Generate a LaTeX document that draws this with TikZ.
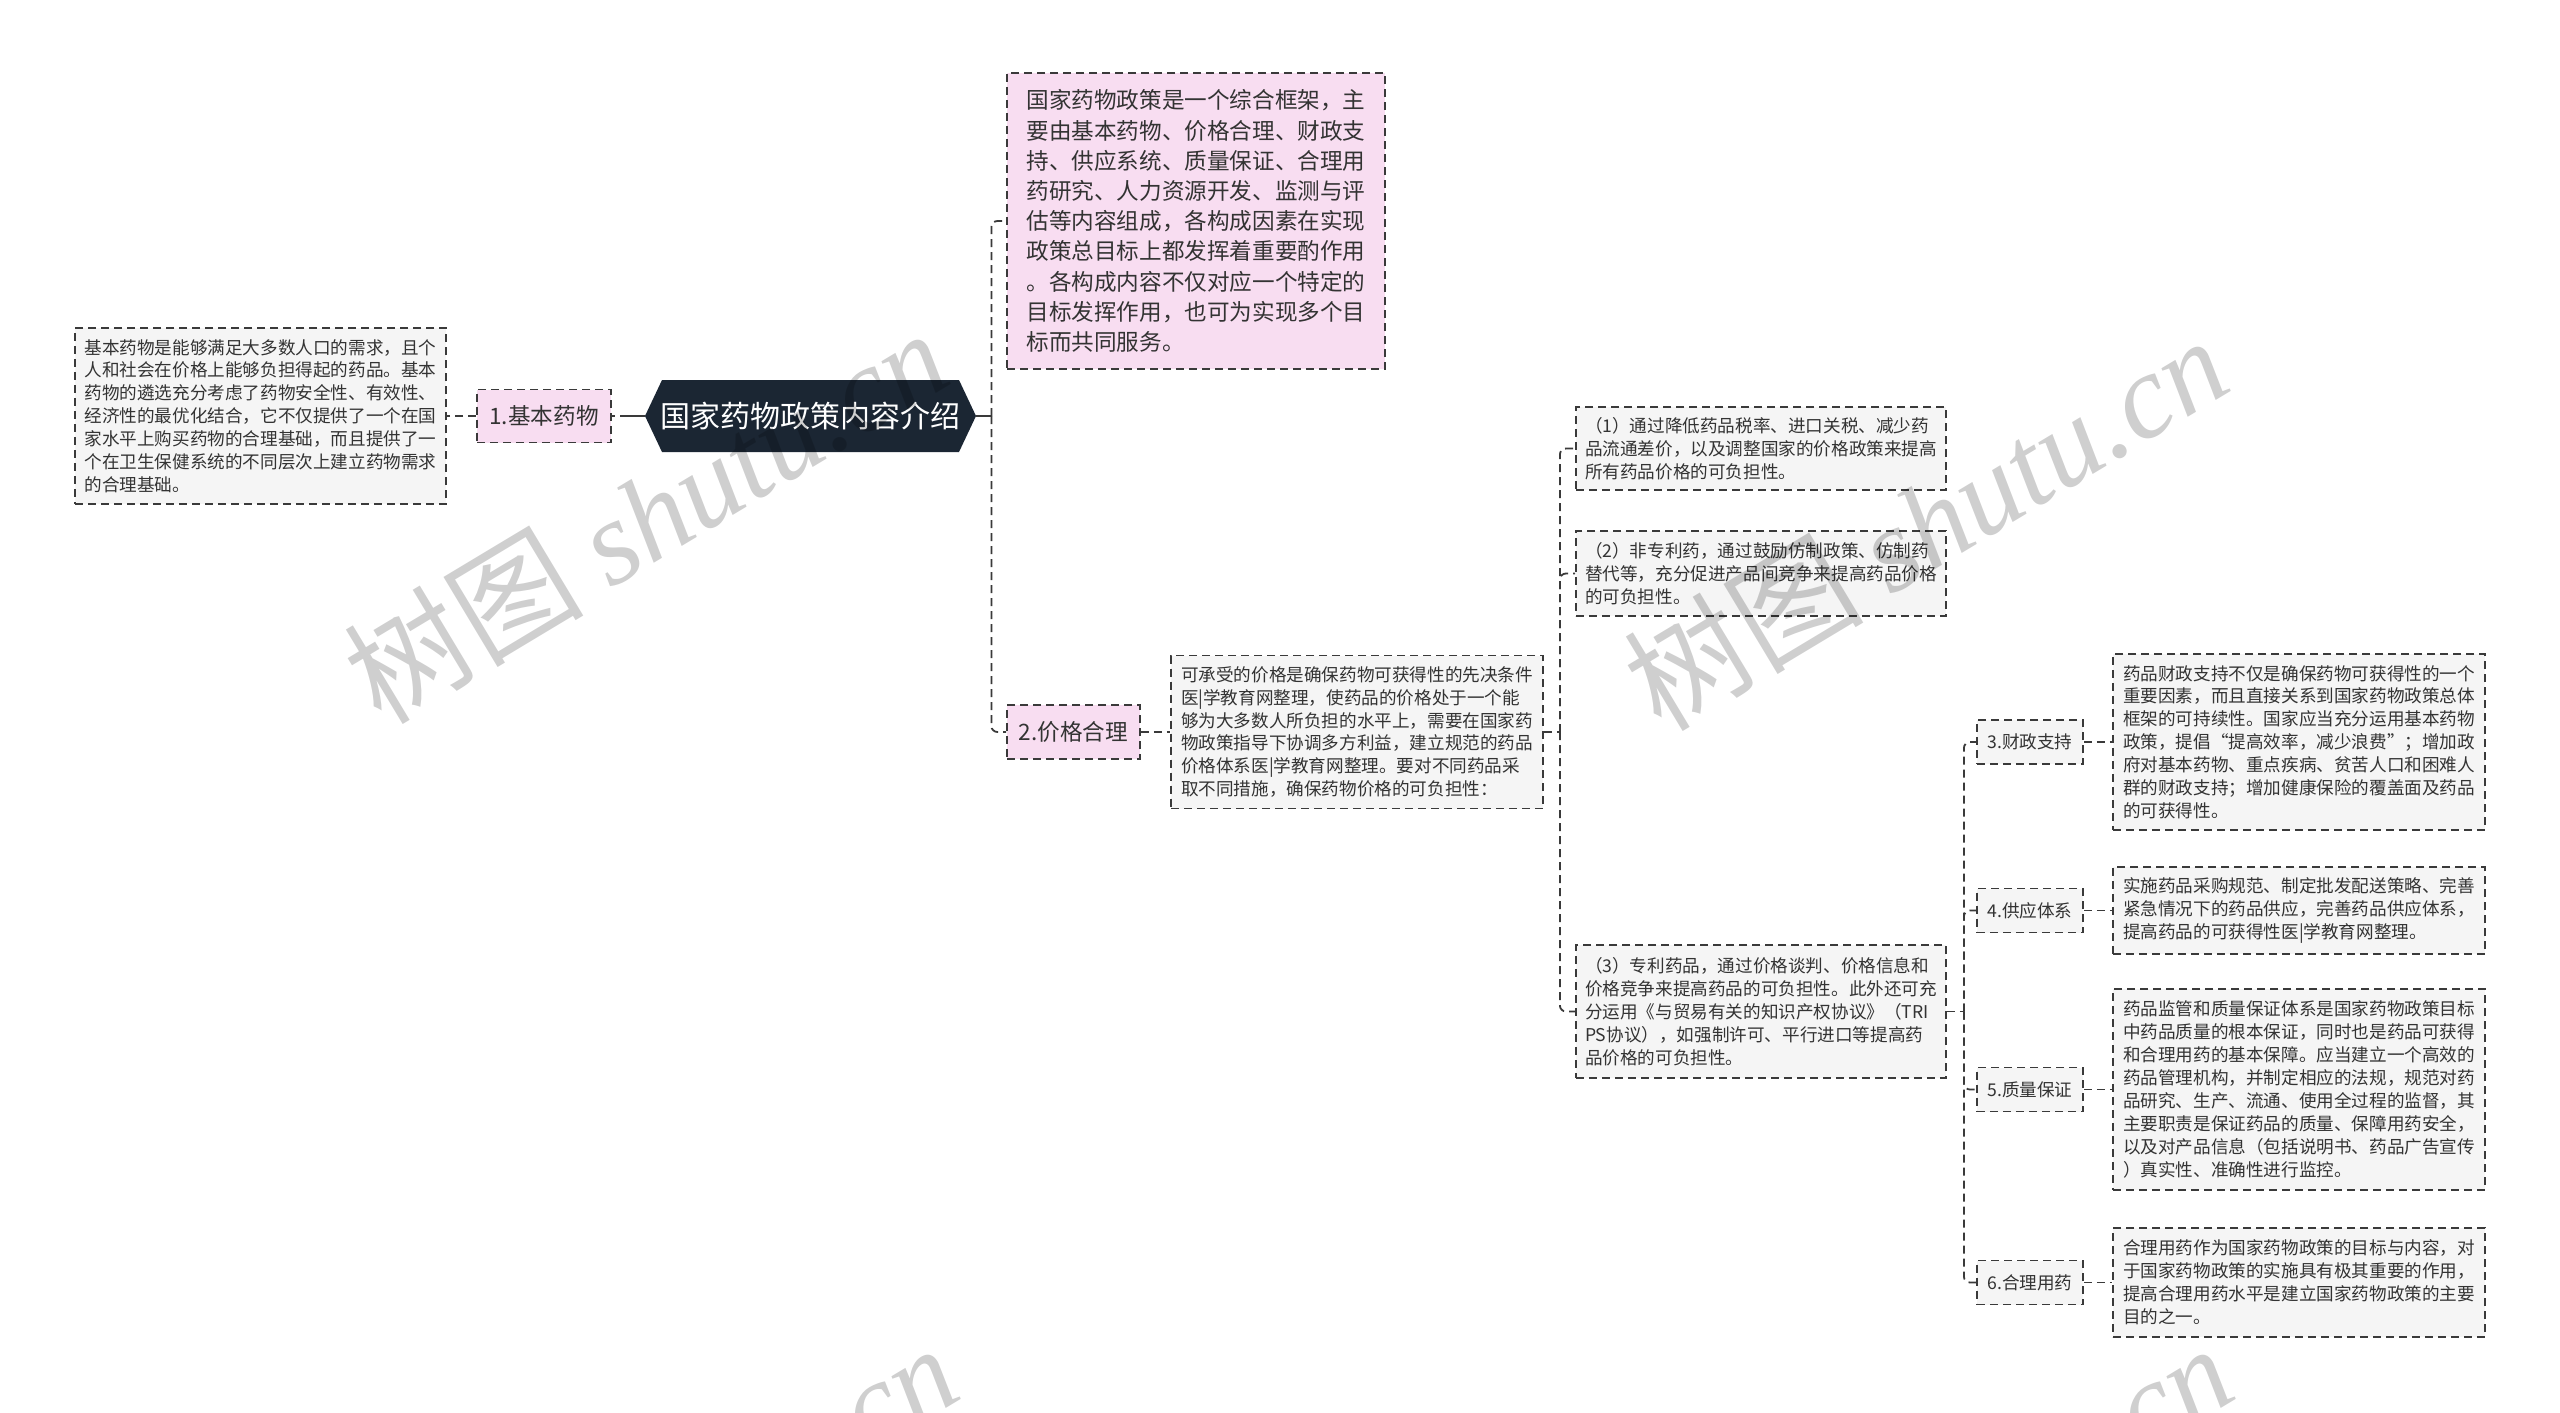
\documentclass[tikz,border=0pt]{standalone}
\usepackage{fontspec}
\setmainfont{Noto Sans CJK SC}
\newfontfamily\wmserif{Liberation Serif}
\definecolor{linec}{HTML}{3A3A3A}
\definecolor{pinkf}{HTML}{F8DDF1}
\definecolor{grayf}{HTML}{F5F5F5}
\definecolor{rootf}{HTML}{1B2633}
\definecolor{txt}{HTML}{333333}
\begin{document}
\begin{tikzpicture}[x=0.5pt,y=-0.5pt,
 box/.style={draw=linec, line width=0.9pt, dash pattern=on 4pt off 2.5pt, align=left, inner sep=3pt, text=txt, anchor=center},
 small/.style={font=\fontsize{8.8}{11.45}\selectfont},
 mid/.style={font=\fontsize{11.3}{15.1}\selectfont},
 gbox/.style={box, fill=grayf, small},
 pbox/.style={box, fill=pinkf},
 conn/.style={draw=linec, line width=0.9pt, dash pattern=on 4pt off 2.5pt, rounded corners=3pt},
 sconn/.style={draw=linec, line width=1.2pt},
 wm/.style={rotate=31, text=black, opacity=0.19, font=\fontsize{60}{60}\selectfont}
]
\useasboundingbox (0,0) rectangle (2560,1413);
\clip (0,0) rectangle (2560,1413);
\fill[white] (0,0) rectangle (2560,1413);

% root hexagon
\fill[rootf] (645,416) -- (662,380) -- (959,380) -- (976,416) -- (959,452) -- (662,452) -- cycle;
\node[text=white, font=\fontsize{15}{18}\selectfont, minimum width=165.5pt, minimum height=36pt, inner sep=0pt] (root) at (810.5,416) {国家药物政策内容介绍};

\node[gbox, minimum width=185.5pt, minimum height=88pt] (L) at (260.5,416) {基本药物是能够满足大多数人口的需求，且个\\人和社会在价格上能够负担得起的药品。基本\\药物的遴选充分考虑了药物安全性、有效性、\\经济性的最优化结合，它不仅提供了一个在国\\家水平上购买药物的合理基础，而且提供了一\\个在卫生保健系统的不同层次上建立药物需求\\的合理基础。};
\node[pbox, mid, minimum width=67pt, minimum height=26.5pt] (n1) at (544,416) {1.基本药物};

\node[pbox, mid, minimum width=189pt, minimum height=148pt] (top) at (1196,221) {国家药物政策是一个综合框架，主\\要由基本药物、价格合理、财政支\\持、供应系统、质量保证、合理用\\药研究、人力资源开发、监测与评\\估等内容组成，各构成因素在实现\\政策总目标上都发挥着重要酌作用\\。各构成内容不仅对应一个特定的\\目标发挥作用，也可为实现多个目\\标而共同服务。};
\node[pbox, mid, minimum width=66.5pt, minimum height=27pt] (n2) at (1073.5,732) {2.价格合理};

\node[gbox, minimum width=186pt, minimum height=76.5pt] (price) at (1357,732) {可承受的价格是确保药物可获得性的先决条件\\医|学教育网整理，使药品的价格处于一个能\\够为大多数人所负担的水平上，需要在国家药\\物政策指导下协调多方利益，建立规范的药品\\价格体系医|学教育网整理。要对不同药品采\\取不同措施，确保药物价格的可负担性：};

\node[gbox, minimum width=185pt, minimum height=41.5pt] (p1) at (1761,448.5) {（1）通过降低药品税率、进口关税、减少药\\品流通差价，以及调整国家的价格政策来提高\\所有药品价格的可负担性。};
\node[gbox, minimum width=185pt, minimum height=42.5pt] (p2) at (1761,573.5) {（2）非专利药，通过鼓励仿制政策、仿制药\\替代等，充分促进产品间竞争来提高药品价格\\的可负担性。};
\node[gbox, minimum width=185pt, minimum height=66.5pt] (p3) at (1761,1011.5) {（3）专利药品，通过价格谈判、价格信息和\\价格竞争来提高药品的可负担性。此外还可充\\分运用《与贸易有关的知识产权协议》（TRI\\PS协议），如强制许可、平行进口等提高药\\品价格的可负担性。};

\node[gbox, minimum width=53pt, minimum height=22pt] (s3) at (2030,742) {3.财政支持};
\node[gbox, minimum width=53pt, minimum height=22pt] (s4) at (2030,910.5) {4.供应体系};
\node[gbox, minimum width=53pt, minimum height=22pt] (s5) at (2030,1089.5) {5.质量保证};
\node[gbox, minimum width=53pt, minimum height=22pt] (s6) at (2030,1282.5) {6.合理用药};

\node[gbox, minimum width=186pt, minimum height=88pt] (t3) at (2299,742) {药品财政支持不仅是确保药物可获得性的一个\\重要因素，而且直接关系到国家药物政策总体\\框架的可持续性。国家应当充分运用基本药物\\政策，提倡“提高效率，减少浪费”；增加政\\府对基本药物、重点疾病、贫苦人口和困难人\\群的财政支持；增加健康保险的覆盖面及药品\\的可获得性。};
\node[gbox, minimum width=186pt, minimum height=43.5pt] (t4) at (2299,910.5) {实施药品采购规范、制定批发配送策略、完善\\紧急情况下的药品供应，完善药品供应体系，\\提高药品的可获得性医|学教育网整理。};
\node[gbox, minimum width=186pt, minimum height=100.5pt] (t5) at (2299,1089.5) {药品监管和质量保证体系是国家药物政策目标\\中药品质量的根本保证，同时也是药品可获得\\和合理用药的基本保障。应当建立一个高效的\\药品管理机构，并制定相应的法规，规范对药\\品研究、生产、流通、使用全过程的监督，其\\主要职责是保证药品的质量、保障用药安全，\\以及对产品信息（包括说明书、药品广告宣传\\）真实性、准确性进行监控。};
\node[gbox, minimum width=186pt, minimum height=54.5pt] (t6) at (2299,1282.5) {合理用药作为国家药物政策的目标与内容，对\\于国家药物政策的实施具有极其重要的作用，\\提高合理用药水平是建立国家药物政策的主要\\目的之一。};

% connectors
\draw[sconn] (root.west) -- ++(-17,0) coordinate (jl);
\draw[conn] (jl) -- (n1.east);
\draw[conn] (n1.west) -- (L.east);
\draw[sconn] (root.east) -- ++(15,0) coordinate (j0);
\draw[conn] (j0) |- (top.west);
\draw[conn] (j0) |- (n2.west);
\draw[conn] (n2.east) -- (price.west);
\draw[conn] (price.east) -- ++(16,0) coordinate (j1);
\draw[conn] (j1) |- (p1.west);
\draw[conn] (j1) |- (p2.west);
\draw[conn] (j1) |- (p3.west);
\draw[conn] (p3.east) -- ++(17,0) coordinate (j2);
\draw[conn] (j2) |- (s3.west);
\draw[conn] (j2) |- (s4.west);
\draw[conn] (j2) |- (s5.west);
\draw[conn] (j2) |- (s6.west);
\draw[conn] (s3.east) -- (t3.west);
\draw[conn] (s4.east) -- (t4.west);
\draw[conn] (s5.east) -- (t5.west);
\draw[conn] (s6.east) -- (t6.west);

% watermarks
\node[wm] (w1) at (645,515) {树图 {\wmserif\itshape shutu.cn}};
\node[wm] (w2) at (1925,522) {树图 {\wmserif\itshape shutu.cn}};
\node[wm] (w3) at (655,1530) {树图 {\wmserif\itshape shutu.cn}};
\node[wm] (w4) at (1930,1530) {树图 {\wmserif\itshape shutu.cn}};
\end{tikzpicture}
\end{document}
